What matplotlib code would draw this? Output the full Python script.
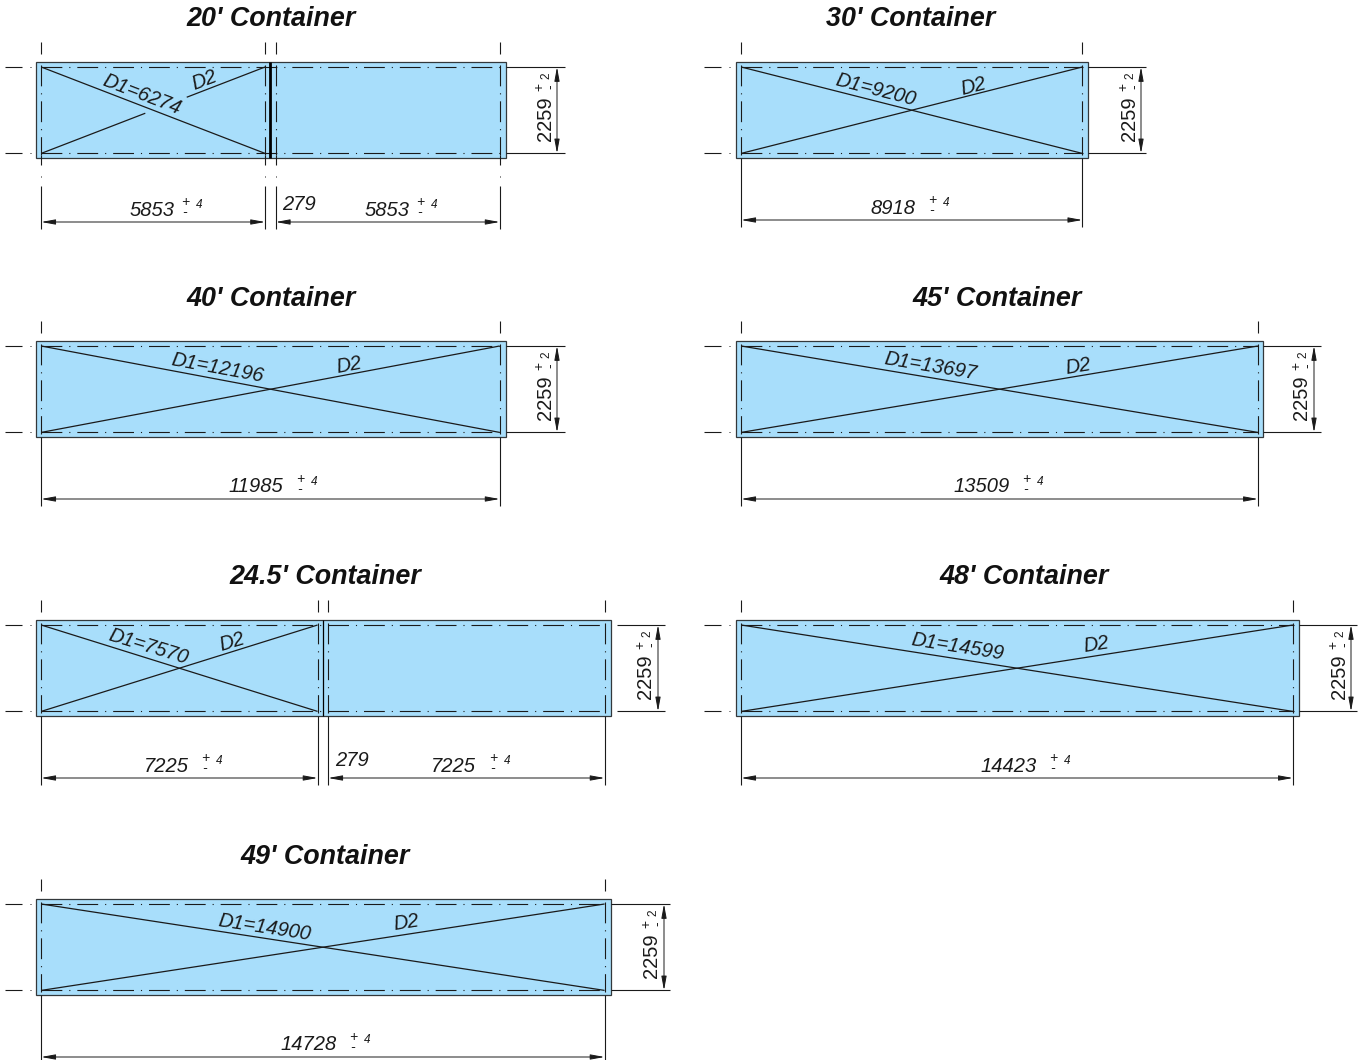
#!/usr/bin/python3

### Imports
from matplotlib import pyplot as plt
from matplotlib.patches import Rectangle

plt.rcParams['font.family'] = ['Liberation Sans', 'DejaVu Sans']
plt.rcParams['lines.scale_dashes'] = False

### Data (mm)
titles = ["20' Container", "30' Container", "40' Container", "45' Container",
          "24.5' Container", "48' Container", "49' Container"]
segments = [[5853, 5853], [8918], [11985], [13509], [7225, 7225], [14423], [14728]]
d1_values = [6274, 9200, 12196, 13697, 7570, 14599, 14900]
gap_mm = 279
height_mm = 2259
tol_len = 4
tol_height = 2

### Layout, pixels of the 1362x1060 sheet
scale = 0.03825
box_left = [36, 736, 36, 736, 36, 736, 36]
box_right = [506, 1088, 506, 1263, 611, 1299, 611]
box_top = [62, 62, 341, 341, 620, 620, 899]
title_x = [271, 911, 271, 997, 325, 1024, 325]
dim_x = [557, 1141, 557, 1314, 658, 1351, 664]
dim_end = [565, 1146, 565, 1321, 665, 1357, 670]
dim_start = [506, 1088, 506, 1263, 617, 1299, 611]
tick_left = [5, 704, 5, 704, 5, 704, 5]
len_dim_y = [222, 220, 499, 499, 778, 778, 1057]
# centre of each length label and offset of its tolerance signs
len_text_x = [[152, 387], [893], [256], [982], [166, 453], [1009], [309]]
tol_sign_dx = [[33, 33], [39], [44], [44], [39, 40], [44], [44]]
d1_pos = [(142, 95), (876, 90), (217, 368), (931, 366), (148, 647), (958, 647), (265, 928)]
d2_pos = [(204, 80), (973, 86), (349, 365), (1078, 366), (232, 642), (1096, 645), (406, 923)]
d_rot = [21, 14.5, 10.5, 9.5, 17, 9, 8.7]
gap_text = {0: (299, 204), 4: (352, 760)}
divider_lw = {0: 2.0, 4: 0.9}

fill = '#a8defb'
ink = '#1a1a1a'
chain = (0, (15, 5, 0.8, 5))


def line(ax, x, y, lw=0.8, ls='-', color=ink):
    ax.plot(x, y, color=color, lw=lw, ls=ls, solid_capstyle='butt', dash_capstyle='butt')


def arrow(ax, a, b):
    ax.annotate('', xy=a, xytext=b,
                arrowprops=dict(arrowstyle='<|-|>,head_length=0.6,head_width=0.11',
                                color=ink, lw=0.7, shrinkA=0, shrinkB=0, mutation_scale=14))


def label(ax, x, y, s, size=14.5, rot=0, style='italic', spacing=1.2):
    ax.text(x, y, s, fontsize=size, style=style, rotation=rot, rotation_mode='anchor',
            ha='center', va='center', multialignment='center', linespacing=spacing, color=ink)


def draw_panel(ax, i):
    x0, x1, top = box_left[i], box_right[i], box_top[i]
    bottom = top + 96
    y0 = top + 5
    y1 = y0 + height_mm * scale
    dim_y = len_dim_y[i]
    ax.add_patch(Rectangle((x0 - 0.5, top - 0.5), x1 - x0, bottom - top, fc=fill, ec='#33383b', lw=0.9, zorder=0))
    ax.text(title_x[i], top - 42.5, titles[i], fontsize=19.4, weight='bold', style='italic',
            ha='center', va='center', color='#111111')

    # vertical centre lines, taken from the length dimensions
    edges = []
    x = x0 + 5.2
    for n, seg in enumerate(segments[i]):
        if n:
            x += gap_mm * scale
        edges.append((x, x + seg * scale))
        x += seg * scale
    for a, b in edges:
        for xx in (a, b):
            line(ax, [xx, xx], [top - 20, top - 8])
            line(ax, [xx, xx], [top + 3, bottom - 3], ls=chain)
            if i == 0:
                line(ax, [xx, xx], [bottom - 3, bottom + 7])
                line(ax, [xx, xx], [bottom + 18, bottom + 18.8], lw=0.7)
                line(ax, [xx, xx], [bottom + 28, dim_y + 7])
            else:
                line(ax, [xx, xx], [bottom, dim_y + 7])
        arrow(ax, (a, dim_y), (b, dim_y))

    # horizontal centre lines, end ticks and height dimension
    for yy in (y0, y1):
        line(ax, [tick_left[i], tick_left[i] + 17], [yy, yy])
        line(ax, [tick_left[i] + 25, tick_left[i] + 26], [yy, yy], lw=0.7)
        line(ax, [x0 + 5, x1 - 5], [yy, yy], ls=chain)
        line(ax, [dim_start[i], dim_end[i]], [yy, yy])
    arrow(ax, (dim_x[i], y0), (dim_x[i], y1))
    tx = dim_x[i] - 12
    label(ax, tx, y0 + 52, str(height_mm), size=14.5, rot=90, style='normal')
    label(ax, tx, y0 + 20, '+\n-', size=10, rot=90, style='normal', spacing=0.7)
    label(ax, tx + 1, y0 + 9, str(tol_height), size=8.5, rot=90, style='normal')

    # diagonals of the first container bay
    a, b = edges[0]
    line(ax, [a, b], [y0, y1], lw=0.9)
    if i == 0:
        cut = (0.465, 0.65)
        line(ax, [a, a + (b - a) * cut[0]], [y1, y1 + (y0 - y1) * cut[0]], lw=0.9)
        line(ax, [a + (b - a) * cut[1], b], [y1 + (y0 - y1) * cut[1], y0], lw=0.9)
    else:
        line(ax, [a, b], [y1, y0], lw=0.9)
    label(ax, *d1_pos[i], 'D1=%d' % d1_values[i], rot=-d_rot[i])
    label(ax, *d2_pos[i], 'D2', rot=d_rot[i])

    # length labels with tolerance
    for n, seg in enumerate(segments[i]):
        cx = len_text_x[i][n]
        sx = cx + tol_sign_dx[i][n]
        label(ax, cx, dim_y - 12, str(seg))
        label(ax, sx, dim_y - 15, '+\n-', size=10, spacing=0.7)
        label(ax, sx + 14, dim_y - 17, str(tol_len), size=8.5)

    if i in gap_text:
        label(ax, *gap_text[i], str(gap_mm))
        xd = (edges[0][1] + edges[1][0]) / 2
        line(ax, [xd, xd], [top, bottom], lw=divider_lw[i], color='#000000')


if __name__ == '__main__':
    fig = plt.figure(figsize=(13.62, 10.60), dpi=100)
    ax = fig.add_axes([0, 0, 1, 1])
    ax.set_xlim(0, 1362)
    ax.set_ylim(1060, 0)
    ax.axis('off')
    for i in range(len(titles)):
        draw_panel(ax, i)
    fig.savefig('out.png', dpi=100)
